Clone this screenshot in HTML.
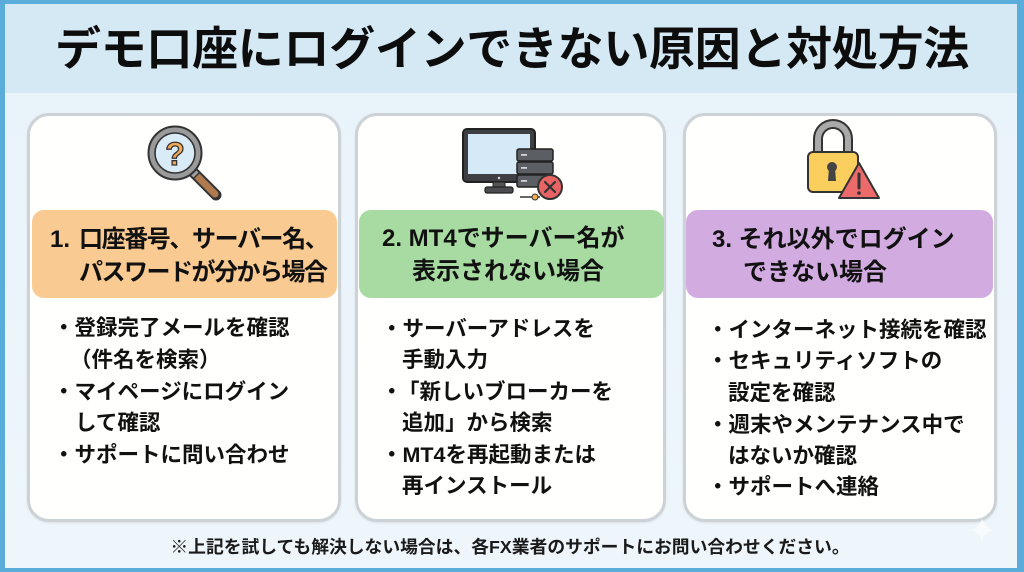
<!DOCTYPE html>
<html><head><meta charset="utf-8">
<style>
*{margin:0;padding:0;box-sizing:border-box}
html,body{width:1024px;height:572px;overflow:hidden}
body{position:relative;background:#5aaddb;font-family:"Liberation Sans","Noto Sans CJK JP",sans-serif;color:#111}
.inner{position:absolute;left:5px;top:4px;width:1012px;height:564px;background:linear-gradient(#e8f3fa,#eef6fb)}
.band{position:absolute;left:5px;top:4px;width:1012px;height:89px;background:#d5e9f5}
.title{position:absolute;left:0;top:20px;width:1024px;text-align:center;font-size:46px;line-height:58px;font-weight:700;color:#0d0d0d;letter-spacing:-0.3px}
.card{position:absolute;top:113px;height:409px;background:#fffffd;border:3px solid #cdd2d6;border-radius:22px;box-shadow:0 1px 2px rgba(0,0,0,0.08)}
.hb{position:absolute;top:210px;height:88px;border-radius:12px}
.h{position:absolute;font-size:24px;font-weight:700;line-height:33px;white-space:nowrap;color:#111}
.l{position:absolute;font-size:21.5px;font-weight:700;line-height:31.5px;white-space:nowrap;color:#111}
.foot{position:absolute;left:0;top:535px;width:1020px;text-align:center;font-size:17.8px;font-weight:600;line-height:24px;color:#1a1a1a}
svg{position:absolute;left:0;top:0}
</style></head><body>
<div class="inner"></div>
<div class="band"></div>
<div class="title">デモ口座にログインできない原因と対処方法</div>

<div class="card" style="left:27px;width:314px"></div>
<div class="card" style="left:355px;width:311px"></div>
<div class="card" style="left:683px;width:314px"></div>

<div class="hb" style="left:32px;width:305px;background:#f9cb92"></div>
<div class="hb" style="left:359px;width:305px;background:#a8dba2"></div>
<div class="hb" style="left:686px;width:307px;background:#d2abe1"></div>

<svg width="1024" height="572" viewBox="0 0 1024 572">
  <!-- magnifier -->
  <line x1="192" y1="171" x2="216" y2="195" stroke="#333" stroke-width="11" stroke-linecap="round"/>
  <line x1="194" y1="173" x2="215" y2="194" stroke="#b07a50" stroke-width="7" stroke-linecap="round"/>
  <line x1="190" y1="169" x2="197" y2="176" stroke="#333" stroke-width="10"/>
  <line x1="191" y1="170" x2="196" y2="175" stroke="#a0a0a0" stroke-width="7"/>
  <circle cx="175" cy="153" r="26.5" fill="#9a9a9a" stroke="#333" stroke-width="2"/>
  <circle cx="175" cy="153" r="20" fill="#d9ebf6" stroke="#333" stroke-width="1.6"/>
  <text x="175" y="165" text-anchor="middle" font-family="Liberation Sans, sans-serif" font-weight="700" font-size="32" fill="#f2aa55" stroke="#333" stroke-width="1.3">?</text>

  <!-- monitor & server -->
  <rect x="463" y="129" width="72" height="53" rx="4" fill="#3d3f42" stroke="#222" stroke-width="2"/>
  <rect x="468" y="134" width="62" height="40" fill="#d6e9f6"/>
  <circle cx="499" cy="178" r="1.2" fill="#ddd"/>
  <rect x="493" y="182" width="12" height="6" fill="#555" stroke="#222" stroke-width="1"/>
  <rect x="485" y="187" width="28" height="6" rx="2" fill="#4a4c50" stroke="#222" stroke-width="1.2"/>
  <rect x="517" y="149" width="36" height="12" rx="2" fill="#5b5e63" stroke="#222" stroke-width="1.5"/>
  <rect x="517" y="162" width="36" height="12" rx="2" fill="#5b5e63" stroke="#222" stroke-width="1.5"/>
  <rect x="517" y="175" width="36" height="12" rx="2" fill="#5b5e63" stroke="#222" stroke-width="1.5"/>
  <g fill="#cfd3d8"><rect x="521" y="154" width="6" height="1.8"/><rect x="521" y="167" width="6" height="1.8"/><rect x="521" y="180" width="6" height="1.8"/></g>
  <line x1="520" y1="197" x2="540" y2="197" stroke="#333" stroke-width="1.5"/>
  <circle cx="535" cy="197" r="3" fill="#f3b24a" stroke="#333" stroke-width="1"/>
  <circle cx="550" cy="187" r="12" fill="#e86464" stroke="#333" stroke-width="2"/>
  <line x1="545" y1="182" x2="555" y2="192" stroke="#333" stroke-width="2.2" stroke-linecap="round"/>
  <line x1="555" y1="182" x2="545" y2="192" stroke="#333" stroke-width="2.2" stroke-linecap="round"/>

  <!-- lock -->
  <path d="M818 154 V139 A15 15 0 0 1 848 139 V154" fill="none" stroke="#333" stroke-width="10"/>
  <path d="M818 154 V139 A15 15 0 0 1 848 139 V154" fill="none" stroke="#a9a9a9" stroke-width="6"/>
  <rect x="808" y="152" width="50" height="40" rx="5" fill="#fbcf5e" stroke="#333" stroke-width="2"/>
  <circle cx="832" cy="167" r="5" fill="#444"/>
  <path d="M829 168 L835 168 L836 181 L828 181 Z" fill="#444"/>
  <path d="M859 163 L879 198 L839 198 Z" fill="#ec6a6a" stroke="#333" stroke-width="2" stroke-linejoin="round"/>
  <line x1="859" y1="174" x2="859" y2="188" stroke="#333" stroke-width="3" stroke-linecap="round"/>
  <circle cx="859" cy="193" r="1.8" fill="#333"/>

  <!-- sparkle -->
  <path d="M982 518 Q984 528 994 530 Q984 532 982 542 Q980 532 970 530 Q980 528 982 518 Z" fill="#ffffff" opacity="0.6"/>
</svg>

<!-- header texts -->
<div class="h" style="left:50px;top:223px">1.</div>
<div class="h" style="left:79px;top:223px;letter-spacing:-1.4px">口座番号、サーバー名、</div>
<div class="h" style="left:79px;top:256px;letter-spacing:-1.5px">パスワードが分から場合</div>

<div class="h" style="left:382px;top:222px">2. MT4でサーバー名が</div>
<div class="h" style="left:412px;top:255px">表示されない場合</div>

<div class="h" style="left:712px;top:223px">3. それ以外でログイン</div>
<div class="h" style="left:743px;top:256px">できない場合</div>

<!-- list card 1 -->
<div class="l" style="left:53px;top:313px">・登録完了メールを確認</div>
<div class="l" style="left:70px;top:345px">（件名を検索）</div>
<div class="l" style="left:53px;top:377px">・マイページにログイン</div>
<div class="l" style="left:75px;top:408px">して確認</div>
<div class="l" style="left:53px;top:440px">・サポートに問い合わせ</div>

<!-- list card 2 -->
<div class="l" style="left:381px;top:314px">・サーバーアドレスを</div>
<div class="l" style="left:402px;top:345px">手動入力</div>
<div class="l" style="left:381px;top:377px">・</div>
<div class="l" style="left:398px;top:377px">「新しいブローカーを</div>
<div class="l" style="left:402px;top:408px">追加」から検索</div>
<div class="l" style="left:381px;top:440px">・MT4を再起動または</div>
<div class="l" style="left:402px;top:471px">再インストール</div>

<!-- list card 3 -->
<div class="l" style="left:707px;top:315px">・インターネット接続を確認</div>
<div class="l" style="left:707px;top:346px">・セキュリティソフトの</div>
<div class="l" style="left:728px;top:378px">設定を確認</div>
<div class="l" style="left:707px;top:410px">・週末やメンテナンス中で</div>
<div class="l" style="left:728px;top:441px">はないか確認</div>
<div class="l" style="left:707px;top:472px">・サポートへ連絡</div>

<div class="foot">※上記を試しても解決しない場合は、各FX業者のサポートにお問い合わせください。</div>
</body></html>
